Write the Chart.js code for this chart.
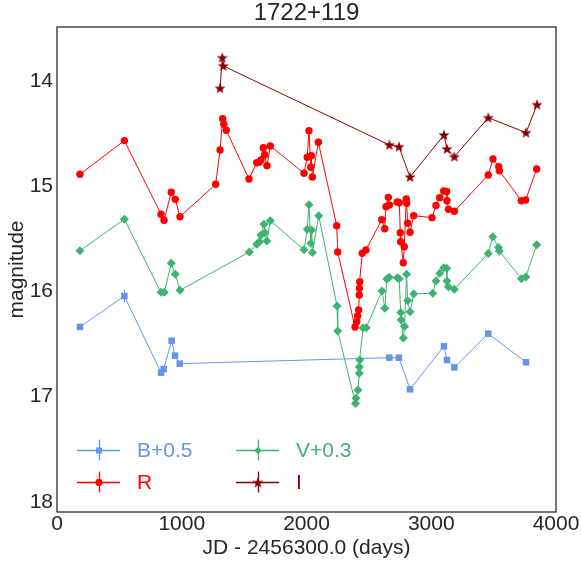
<!DOCTYPE html>
<html><head><meta charset="utf-8">
<script src="https://cdn.jsdelivr.net/npm/chart.js@4/dist/chart.umd.min.js"></script>
<style>html,body{margin:0;padding:0;background:#fff;overflow:hidden}canvas{display:block}</style>
</head><body>
<canvas id="c" width="581" height="562" style="width:581px;height:562px"></canvas>
<script>
// ---- data (JD - 2456300.0, magnitude) ----
const bJD  = [184, 540, 834, 855, 919, 946, 984, 2664, 2741, 2830, 3102, 3126, 3185, 3457, 3760];
const bMag = [16.338, 16.044, 16.773, 16.738, 16.469, 16.611, 16.687, 16.630, 16.630, 16.931, 16.522, 16.652, 16.722, 16.402, 16.674];
const bErr = [0.02, 0.06, 0.02, 0.02, 0.02, 0.02, 0.02, 0.02, 0.02, 0.02, 0.02, 0.02, 0.02, 0.02, 0.02];

const rJD  = [184,540,834,858,916,948,986,1272,1307,1328,1337,1357,1539,1601,1622,1635,1654,1665,1683,1710,1980,2006,2020,2034,2039,2047,2095,2242,2250,2389,2402,2410,2418,2423,2424,2427,2447,2477,2603,2627,2637,2656,2664,2728,2744,2752,2755,2776,2784,2800,2803,2811,2830,2859,3006,3038,3068,3100,3123,3126,3138,3185,3457,3495,3541,3546,3722,3757,3845];
const rMag = [14.887,14.567,15.267,15.324,15.058,15.125,15.290,14.982,14.656,14.358,14.412,14.469,14.932,14.777,14.770,14.751,14.634,14.701,14.805,14.618,14.877,14.725,14.472,14.820,14.710,14.913,14.583,15.375,15.625,16.338,16.288,16.234,16.177,16.034,15.971,15.908,15.638,15.606,15.318,15.404,15.195,15.106,15.179,15.150,15.157,15.442,15.528,15.727,15.575,15.122,15.163,15.353,15.438,15.280,15.299,15.183,15.109,15.046,15.050,15.138,15.220,15.239,14.894,14.741,14.815,14.853,15.138,15.131,14.837];

const vJD  = [184,540,834,860,916,948,986,1542,1601,1622,1635,1659,1667,1683,1710,1980,2006,2020,2034,2042,2047,2098,2245,2250,2393,2397,2413,2423,2424,2427,2453,2479,2605,2628,2644,2663,2728,2743,2755,2758,2776,2786,2802,2811,2830,2860,3012,3038,3068,3100,3124,3126,3137,3185,3457,3493,3539,3545,3723,3758,3845];
const vMag = [15.613,15.315,16.009,16.009,15.733,15.837,15.990,15.625,15.552,15.528,15.464,15.362,15.442,15.521,15.328,15.604,15.410,15.176,15.543,15.416,15.630,15.281,16.139,16.376,17.066,17.016,16.937,16.779,16.719,16.652,16.348,16.345,15.996,16.160,15.882,15.865,15.870,15.880,16.201,16.272,16.443,16.333,15.837,16.089,16.194,16.023,16.018,15.901,15.828,15.775,15.780,15.901,15.955,15.980,15.640,15.480,15.583,15.616,15.879,15.863,15.557];

const iJD  = [1307, 1325, 1333, 2664, 2741, 2830, 3102, 3126, 3185, 3457, 3760, 3848];
const iMag = [14.069, 13.779, 13.857, 14.608, 14.625, 14.913, 14.513, 14.646, 14.720, 14.349, 14.491, 14.225];

const xTicks = [0, 1000, 2000, 3000, 4000];
const yTicks = [14, 15, 16, 17, 18];
const labels = ['B+0.5', 'R', 'V+0.3', 'I'];

// ---- styles ----
const COL_B = '#6495ED', COL_R = '#FF0000', COL_V = '#3CB371', COL_I = '#8B0000';
const TXT = '#262626';
const FONT = "'Liberation Sans', Arial, Helvetica, sans-serif";

function makeStar(R, r, color) {
  const s = Math.ceil(2 * R + 2);
  const c = document.createElement('canvas');
  c.width = s; c.height = s;
  const g = c.getContext('2d');
  g.fillStyle = color;
  g.beginPath();
  for (let i = 0; i < 10; i++) {
    const a = -Math.PI / 2 + i * Math.PI / 5;
    const rr = (i % 2) ? r : R;
    g.lineTo(s / 2 + rr * Math.cos(a), s / 2 + rr * Math.sin(a) + 0.4);
  }
  g.closePath();
  g.fill();
  return c;
}
const starImg = makeStar(5.8, 2.4, COL_I);

function pts(xs, ys) { return xs.map((x, i) => ({ x: x, y: ys[i] })); }

const ds = (label, xs, ys, color, style, radius, order, err) => ({
  label, data: pts(xs, ys), showLine: true, borderColor: color, backgroundColor: color,
  borderWidth: 1, pointStyle: style, pointRadius: radius, pointBorderWidth: 0,
  pointBackgroundColor: color, pointHoverRadius: radius, order, errors: err || null
});

const errPlugin = {
  id: 'errbars',
  afterLayout(chart) {
    if (chart.titleBlock) {
      chart.titleBlock.left = chart.chartArea.left;
      chart.titleBlock.right = chart.chartArea.right;
    }
  },
  beforeDatasetsDraw(chart) {
    const ctx = chart.ctx, xs = chart.scales.x, ys = chart.scales.y;
    chart.data.datasets.forEach(d => {
      if (!d.errors) return;
      ctx.save();
      ctx.strokeStyle = d.borderColor; ctx.lineWidth = 1.2;
      d.data.forEach((p, i) => {
        const e = d.errors[i]; if (!e) return;
        const px = Math.round(xs.getPixelForValue(p.x)) + 0.5;
        ctx.beginPath();
        ctx.moveTo(px, ys.getPixelForValue(p.y - e));
        ctx.lineTo(px, ys.getPixelForValue(p.y + e));
        ctx.stroke();
      });
      ctx.restore();
    });
  },
  afterDatasetsDraw(chart) {
    const ctx = chart.ctx, a = chart.chartArea;
    ctx.save();
    // frame
    ctx.strokeStyle = TXT; ctx.lineWidth = 1.25;
    ctx.strokeRect(a.left, a.top, a.right - a.left, a.bottom - a.top);
    // legend
    const entries = [
      { t: labels[0], c: COL_B, s: 'rect', col: 0, row: 0 },
      { t: labels[1], c: COL_R, s: 'circle', col: 0, row: 1 },
      { t: labels[2], c: COL_V, s: 'rectRot', col: 1, row: 0 },
      { t: labels[3], c: COL_I, s: 'star', col: 1, row: 1 }
    ];
    const colX = [a.left + 20, a.left + 179];
    const rowY = [a.top + 423, a.top + 455];
    ctx.font = '21px ' + FONT;
    ctx.textBaseline = 'middle';
    ctx.textAlign = 'left';
    entries.forEach(e => {
      const x0 = colX[e.col], y = rowY[e.row], mx = x0 + 21.5;
      ctx.strokeStyle = e.c; ctx.fillStyle = e.c; ctx.lineWidth = 1.3;
      ctx.beginPath(); ctx.moveTo(x0, y + 0.5); ctx.lineTo(x0 + 43, y + 0.5); ctx.stroke();
      ctx.beginPath(); ctx.moveTo(Math.round(mx) + 0.5, y - 10.5); ctx.lineTo(Math.round(mx) + 0.5, y + 10.5); ctx.stroke();
      if (e.s === 'star') {
        ctx.drawImage(starImg, mx - starImg.width / 2 + 0.5, y - starImg.height / 2 + 0.5);
      } else {
        Chart.helpers.drawPoint(ctx, { pointStyle: e.s, radius: e.s === 'rect' ? 4 : 3.4, borderWidth: 0, rotation: 0 }, mx + 0.5, y + 0.5);
        ctx.fill();
      }
      ctx.fillText(e.t, x0 + 60, y + 1);
    });
    ctx.restore();
  }
};

Chart.defaults.font.family = FONT;
Chart.defaults.color = TXT;

new Chart(document.getElementById('c'), {
  type: 'scatter',
  data: {
    datasets: [
      ds(labels[0], bJD, bMag, COL_B, 'rect', 4.6, 4, bErr),
      ds(labels[1], rJD, rMag, COL_R, 'circle', 3.7, 3),
      ds(labels[2], vJD, vMag, COL_V, 'rectRot', 4.5, 2),
      ds(labels[3], iJD, iMag, COL_I, starImg, 5.8, 1)
    ]
  },
  options: {
    responsive: false, animation: false, devicePixelRatio: 1,
    layout: { padding: { left: 0, right: 25, top: 0, bottom: 0 } },
    plugins: {
      legend: { display: false },
      tooltip: { enabled: false },
      title: { display: true, text: '1722+119', color: TXT, font: { size: 24, weight: 'normal', lineHeight: 1 }, padding: { top: 1, bottom: 2 } }
    },
    scales: {
      x: {
        type: 'linear', min: 0, max: 4000,
        afterBuildTicks: s => { s.ticks = xTicks.map(v => ({ value: v })); },
        afterFit: s => { s.height = 50; },
        grid: { display: false, drawTicks: false },
        border: { display: false },
        ticks: { color: TXT, font: { size: 21 }, padding: 0, maxRotation: 0, callback: v => String(v) },
        title: { display: true, text: 'JD - 2456300.0 (days)', color: TXT, font: { size: 21 }, padding: { top: 0, bottom: 1.5 } }
      },
      y: {
        type: 'linear', reverse: true, min: 13.487, max: 18.097,
        afterBuildTicks: s => { s.ticks = yTicks.map(v => ({ value: v })); },
        afterFit: s => { s.width = 57; },
        grid: { display: false, drawTicks: false },
        border: { display: false },
        ticks: { color: TXT, font: { size: 21 }, padding: 4, callback: v => String(v) },
        title: { display: true, text: 'magnitude', color: TXT, font: { size: 21 }, padding: { top: 4.5, bottom: 0 } }
      }
    }
  },
  plugins: [errPlugin]
});
</script>
</body></html>
